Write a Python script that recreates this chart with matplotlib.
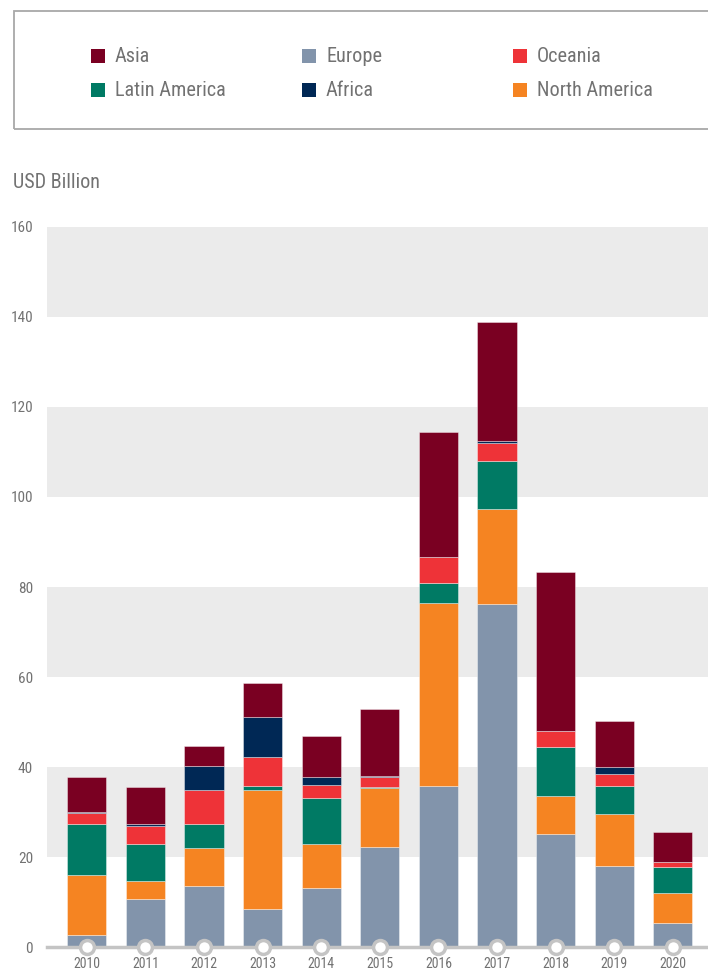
import matplotlib
matplotlib.use("Agg")
import matplotlib.pyplot as plt
from matplotlib.patches import Rectangle
import numpy as np

years = ["2010", "2011", "2012", "2013", "2014", "2015", "2016", "2017", "2018", "2019", "2020"]
europe = [2.6, 10.7, 13.6, 8.35, 13.1, 22.3, 35.7, 76.2, 25.2, 18.1, 5.25]
north_america = [13.3, 3.9, 8.5, 26.65, 9.8, 13.0, 40.7, 21.2, 8.3, 11.4, 6.65]
latin_america = [11.4, 8.2, 5.2, 0.7, 10.3, 0.3, 4.5, 10.7, 11.0, 6.2, 5.9]
oceania = [2.4, 4.2, 7.7, 6.6, 2.7, 2.1, 5.8, 3.8, 3.4, 2.7, 1.0]
africa = [0.4, 0.3, 5.2, 8.9, 1.8, 0.3, 0.0, 0.5, 0.0, 1.6, 0.0]
asia = [7.6, 8.3, 4.5, 7.5, 9.2, 14.9, 27.8, 26.5, 35.4, 10.3, 6.8]

stack_order = [
    ("Europe", europe, "#8294ab"),
    ("North America", north_america, "#f58422"),
    ("Latin America", latin_america, "#007a64"),
    ("Oceania", oceania, "#ee3338"),
    ("Africa", africa, "#002855"),
    ("Asia", asia, "#7a0022"),
]
legend_rows = [["Asia", "Europe", "Oceania"], ["Latin America", "Africa", "North America"]]
colors = {n: c for n, _, c in stack_order}

yticks = [0, 20, 40, 60, 80, 100, 120, 140, 160]

FONT = ["Roboto Condensed", "DejaVu Sans"]
FS = dict(family=FONT, stretch="condensed")
TXT = "#727272"

fig = plt.figure(figsize=(7.08, 9.72), dpi=100)
W, H = 708, 972

def fx(px):
    return px / W

def fy(py):
    return 1 - py / H

ax = fig.add_axes([fx(47), fy(947), fx(708) - fx(47), fy(227) - fy(947)])
x = np.arange(len(years))
ax.set_xlim(-0.68, 10.6)
ax.set_ylim(0, 160)

for lo in [20, 60, 100, 140]:
    ax.axhspan(lo, lo + 20, color="#ebebeb", zorder=0, lw=0)

bottom = np.zeros(len(years))
for name, vals, col in stack_order:
    v = np.array(vals)
    ax.bar(x, v, bottom=bottom, width=0.67, color=col, edgecolor=(1, 1, 1, 0.45),
           linewidth=0.6, zorder=2)
    bottom += v

ax.axhline(0, color="#c4c4c4", lw=2.5, zorder=3, clip_on=False)
ax.plot(x, np.zeros(len(years)), "o", ms=10, mfc="white", mec="#c4c4c4", mew=2.5,
        zorder=4, clip_on=False)

for s in ax.spines.values():
    s.set_visible(False)
ax.set_yticks(yticks)
ax.set_yticklabels([str(t) for t in yticks], fontsize=11, color=TXT, **FS)
ax.set_xticks(x)
ax.set_xticklabels(years, fontsize=10, color=TXT, **FS)
ax.tick_params(axis="both", length=0)
ax.tick_params(axis="y", pad=10)
ax.tick_params(axis="x", pad=7)

fig.text(fx(13), fy(182), "USD Billion", fontsize=14.5, color=TXT,
         ha="left", va="center", **FS)

# legend box
fig.patches.append(Rectangle((fx(14), fy(129)), fx(720) - fx(14), fy(11) - fy(129),
                             transform=fig.transFigure, fill=False,
                             edgecolor="#a8a8a8", lw=1.3))
col_x = [91, 302, 513]
row_y = [56, 90]
for r, row in enumerate(legend_rows):
    for c, name in enumerate(row):
        fig.patches.append(Rectangle((fx(col_x[c]), fy(row_y[r] + 7)), fx(14), 14 / H,
                                     transform=fig.transFigure, color=colors[name], lw=0))
        fig.text(fx(col_x[c] + 24), fy(row_y[r]), name, fontsize=14.6,
                 color=TXT, ha="left", va="center", **FS)

fig.savefig("out.png", dpi=100)
